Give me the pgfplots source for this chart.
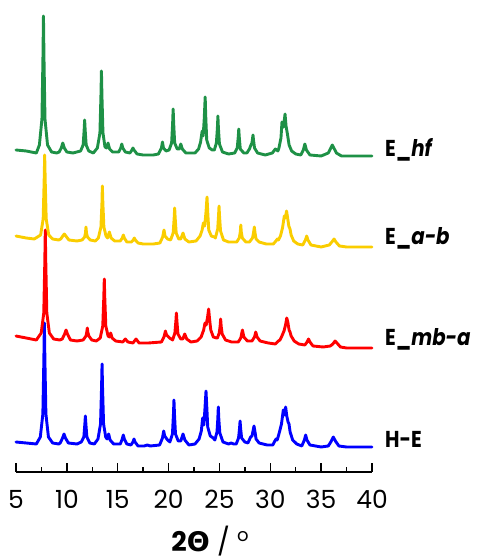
\documentclass[border=0pt]{standalone}
\usepackage{fontspec}
\setmainfont{Poppins}
\newfontfamily\lab[FakeStretch=0.86]{Poppins}
\newfontfamily\grk{DejaVu Sans}
\usepackage{pgfplots}
\usepackage{pgfplotstable}
\pgfplotsset{compat=1.18}
\definecolor{cgreen}{RGB}{30,145,70}
\definecolor{cyellow}{RGB}{250,205,0}
\definecolor{cred}{RGB}{255,0,0}
\definecolor{cblue}{RGB}{0,0,255}

\pgfplotstableread{
x py
5 150
6 151
7 153
7.3 145
7.55 119
7.65 57
7.7 16
7.75 57
7.85 119
8.1 145
8.5 152
9.0 153
9.25 152
9.45 148
9.6 143
9.75 148
10.0 152
10.6 153
11.35 151
11.6 145
11.7 130
11.75 120
11.8 130
11.9 145
12.15 151
12.6 153
13.0 148
13.25 133
13.35 96
13.4 71
13.45 96
13.55 133
13.75 147
13.9 148
14.05 143
14.2 149
14.5 152
15.1 152
15.3 148
15.4 144
15.5 148
15.75 152
16.2 153
16.4 150
16.5 148
16.6 150
16.9 154
17.5 155
18.5 155
19.0 154
19.3 148
19.4 142
19.5 148
19.75 151
20.05 150
20.3 143
20.4 123
20.45 109
20.5 123
20.6 143
20.85 149
21.05 149
21.2 144
21.35 149
21.7 153
22.6 153
22.95 149
23.15 142
23.3 131
23.4 136
23.5 120
23.6 97
23.65 115
23.75 140
24.0 148
24.3 150
24.5 150
24.7 143
24.8 128
24.85 116
24.9 128
25.0 144
25.3 152
25.9 154
26.5 153
26.75 148
26.85 137
26.9 129
26.95 137
27.05 149
27.4 153
27.7 153
27.95 149
28.1 145
28.2 143
28.3 135
28.35 140
28.45 148
28.75 153
29.5 155
30.2 153
30.5 149
30.75 151
30.85 148
31.05 138
31.15 122
31.3 127
31.45 114
31.55 126
31.7 135
31.85 145
32.1 151
32.5 154
33.0 155
33.25 150
33.4 144
33.55 150
33.9 155
35.0 156
35.7 153
36.1 145
36.5 153
37.0 156
38.0 156
39.0 156
40.0 156
}\green

\pgfplotstableread{
x py
5 236
6 238
6.8 239
7.42 235
7.67 219
7.77 180
7.82 155
7.87 180
7.97 219
8.22 235
8.6 239
9.2 240
9.4 239
9.6 236
9.75 234
9.9 236
10.2 240
11.0 241
11.5 240
11.75 237
11.83 233
11.88 227
11.93 233
12.03 237
12.3 240
12.8 241
13.1 238
13.35 227
13.45 203
13.49 186
13.54 203
13.64 227
13.85 236
14.0 238
14.18 232
14.35 238
14.7 241
15.25 241
15.45 238
15.55 235
15.65 238
15.9 242
16.35 242
16.53 240
16.63 238
16.73 240
17.0 243
17.5 244
18.5 244
19.15 243
19.42 237
19.55 230
19.65 236
19.9 239
20.2 240
20.45 233
20.55 218
20.6 208
20.65 218
20.75 233
21.0 239
21.2 239
21.42 233
21.6 239
22.0 242
22.7 241
23.1 236
23.3 230
23.42 223
23.55 226
23.68 212
23.78 197
23.85 212
23.95 230
24.2 236
24.5 237
24.6 238
24.83 229
24.91 216
24.96 206
25.01 216
25.11 231
25.4 240
25.9 242
26.7 242
26.95 238
27.05 232
27.1 225
27.15 232
27.25 238
27.6 242
27.95 242
28.25 238
28.35 233
28.43 227
28.5 233
28.6 239
28.9 242
29.6 244
30.3 244
30.55 241
30.7 239
30.8 240
31.0 236
31.2 228
31.38 216
31.48 218
31.6 211
31.72 219
31.82 226
31.94 229
32.05 235
32.3 241
32.7 244
33.2 245
33.45 240
33.58 236
33.7 240
34.0 245
35.0 247
35.8 245
36.05 242
36.27 239
36.45 242
36.8 246
37.5 247
38.5 247
40.0 247
}\yellow

\pgfplotstableread{
x py
5 336
6 338
7 340
7.48 333
7.73 313
7.83 263
7.88 230
7.93 263
8.03 313
8.28 333
8.7 339
9.3 340
9.55 339
9.78 334
9.92 330
10.06 334
10.35 340
11.0 341
11.6 340
11.88 336
11.96 332
12.01 328
12.06 332
12.16 336
12.45 340
12.9 341
13.28 338
13.53 326
13.63 298
13.68 279
13.73 298
13.83 326
14.05 336
14.18 337
14.31 333
14.45 338
14.8 341
15.5 342
15.75 339
16.0 342
16.5 343
16.8 339
17.1 343
18.0 343
19.3 342
19.55 337
19.69 331
19.8 335
20.1 338
20.4 340
20.62 333
20.72 321
20.77 313
20.82 321
20.92 334
21.2 339
21.4 339
21.59 334
21.78 339
22.2 342
22.8 341
23.2 337
23.45 330
23.58 323
23.7 325
23.85 316
23.94 309
24.02 318
24.15 330
24.4 337
24.7 338
24.8 338
24.98 333
25.07 326
25.12 319
25.17 326
25.27 334
25.6 340
26.2 342
26.85 342
27.1 338
27.26 330
27.4 337
27.75 341
28.2 341
28.45 337
28.57 332
28.7 337
29.0 341
29.8 343
30.5 344
30.8 341
30.95 340
31.1 337
31.35 331
31.5 325
31.62 318
31.72 322
31.85 330
31.94 332
32.05 336
32.35 341
32.8 344
33.4 345
33.62 342
33.76 339
33.9 342
34.2 346
35.2 347
35.9 346
36.15 344
36.37 341
36.55 343
36.9 347
37.5 348
38.5 348
40.0 348
}\red

\pgfplotstableread{
x py
5 442
6 443
7 444
7.39 437
7.64 414
7.74 359
7.79 323
7.84 359
7.94 414
8.19 437
8.6 443
9.2 444
9.35 443
9.58 438
9.72 434
9.86 438
10.15 443
11.0 444
11.42 442
11.67 437
11.77 424
11.82 416
11.87 424
11.97 437
12.25 443
12.7 444
13.06 439
13.31 424
13.41 388
13.46 364
13.51 388
13.61 424
13.82 437
13.95 439
14.11 434
14.25 440
14.6 444
15.25 444
15.45 439
15.55 435
15.65 439
15.9 444
16.3 445
16.5 442
16.6 439
16.7 442
17.0 446
17.6 446
17.9 445
18.2 446
19.12 445
19.4 438
19.52 431
19.62 436
19.9 440
20.13 442
20.38 434
20.48 414
20.53 400
20.58 414
20.68 434
20.95 441
21.2 441
21.42 434
21.6 440
22.0 445
22.6 444
23.0 439
23.22 431
23.35 418
23.47 425
23.58 408
23.68 391
23.75 405
23.85 427
24.1 436
24.4 438
24.55 440
24.76 432
24.84 419
24.89 407
24.94 419
25.04 433
25.35 442
25.9 444
26.15 443
26.4 444
26.65 444
26.88 438
26.98 428
27.03 421
27.08 428
27.18 438
27.5 442
27.8 443
28.07 437
28.2 436
28.4 426
28.5 432
28.6 439
28.9 443
29.7 445
30.25 445
30.45 441
30.57 439
30.68 440
30.85 434
31.1 424
31.28 410
31.4 415
31.51 407
31.62 416
31.75 422
31.84 424
31.95 432
32.2 440
32.6 444
33.1 446
33.35 440
33.48 435
33.6 440
33.9 445
35.0 447
35.7 446
35.95 442
36.2 437
36.4 441
36.75 446
37.5 447
38.5 447
40.0 447
}\blue

\begin{document}
\begin{tikzpicture}
\useasboundingbox (0,0) rectangle (478pt,559pt);
\begin{axis}[
  at={(16pt,87pt)}, anchor=south west,
  scale only axis, width=356pt, height=462pt,
  xmin=5, xmax=40, ymin=87, ymax=549,
  axis x line=bottom, axis y line=none,
  axis line style={-, line width=1.3pt, black},
  xtick={5,10,...,40}, minor x tick num=1,
  tick align=inside,
  major tick length=9pt, minor tick length=4.5pt,
  every tick/.style={line width=1.3pt, black},
  /pgf/number format/assume math mode=true,
  xticklabel style={font=\fontsize{25}{25}\selectfont, anchor=base, yshift=-37pt},
  clip=false,
]
\addplot[cblue, line width=2.9pt, line join=round, line cap=round, no marks] table[x=x, y expr=559-\thisrow{py}] {\blue};
\addplot[cred, line width=2.9pt, line join=round, line cap=round, no marks] table[x=x, y expr=559-\thisrow{py}] {\red};
\addplot[cyellow, line width=2.9pt, line join=round, line cap=round, no marks] table[x=x, y expr=559-\thisrow{py}] {\yellow};
\addplot[cgreen, line width=2.9pt, line join=round, line cap=round, no marks] table[x=x, y expr=559-\thisrow{py}] {\green};
\end{axis}
\begin{scope}[every node/.style={anchor=base west, inner sep=0pt, font=\lab\fontsize{23}{23}\selectfont\bfseries}]
\node at (385pt,402pt) {E\_\textit{hf}};
\node at (385pt,314pt) {E\_\textit{a-b}};
\node at (385pt,213pt) {E\_\textit{mb-a}};
\node at (385pt,111pt) {H-E};
\end{scope}
\node[anchor=base, inner sep=0pt, font=\fontsize{27}{27}\selectfont] at (210pt,8pt) {\textbf{2{\grk\bfseries Θ}} / \raisebox{9pt}{\fontsize{18}{18}\selectfont o}};
\end{tikzpicture}
\end{document}
